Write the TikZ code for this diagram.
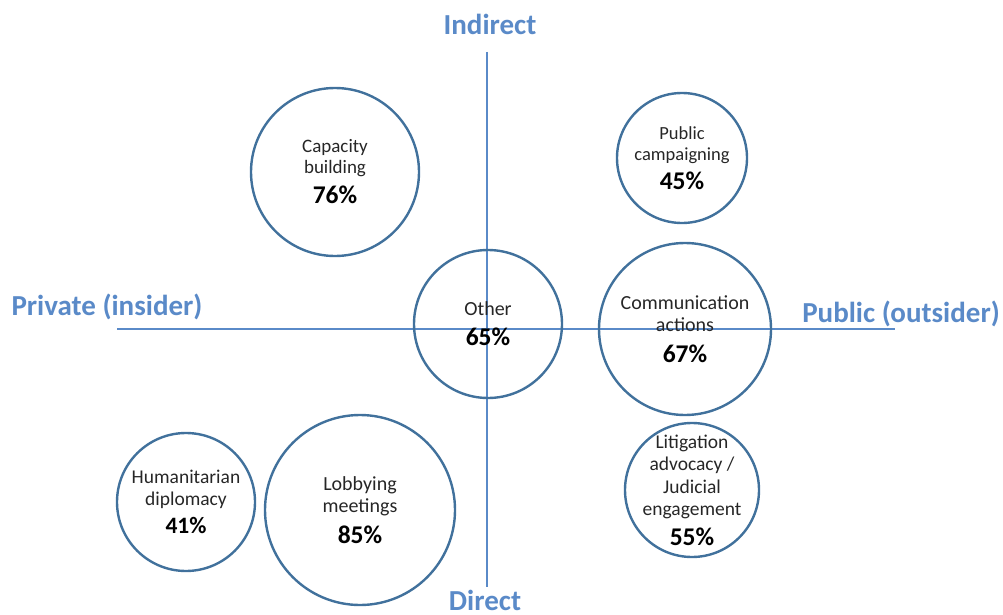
\documentclass[tikz,border=0pt]{standalone}
\usepackage{fontspec}
\setmainfont{Carlito}
\usetikzlibrary{positioning}

\definecolor{axisblue}{HTML}{5A8AC8}
\definecolor{ringblue}{HTML}{41719C}
\definecolor{inkgray}{HTML}{262626}

\newcommand{\share}[2][25.5]{{\fontsize{#1}{#1}\selectfont\bfseries\color{black}#2}}

\begin{document}
\begin{tikzpicture}[x=1pt, y=-1pt,
    ring/.style={circle, draw=ringblue, line width=2.4pt, inner sep=0pt},
    ringtext/.style={align=center, text=inkgray, font=\fontsize{19.5}{22.5}\selectfont},
    axisline/.style={draw=axisblue, line width=1.5pt},
    axislabel/.style={text=axisblue, font=\fontsize{29}{32}\selectfont\bfseries, inner sep=0pt, anchor=base}]
    \useasboundingbox (0,0) rectangle (1003,615);

    % axes
    \coordinate (top) at (487,52);
    \coordinate (bottom) at (487,587);
    \coordinate (left) at (117,329);
    \coordinate (right) at (895,329);
    \draw[axisline] (top) -- (bottom);
    \draw[axisline] (left) -- (right);

    \node[axislabel] (indirect) at (490,35) {Indirect};
    \node[axislabel] (direct) at (485,610) {Direct};
    \node[axislabel] (private) at (107,315) {Private (insider)};
    \node[axislabel] (public) at (901,322) {Public (outsider)};

    % bubbles
    \node[ring, minimum size=168pt] (capacity) at (335,172) {};
    \node[ring, minimum size=130pt] (campaign) at (682,158) {};
    \node[ring, minimum size=148pt] (other) at (488,324) {};
    \node[ring, minimum size=172pt] (comms) at (685,329) {};
    \node[ring, minimum size=134pt] (litigation) at (692,490) {};
    \node[ring, minimum size=138pt] (humanitarian) at (186,502) {};
    \node[ring, minimum size=190pt] (lobbying) at (360,510) {};

    \node[ringtext, font=\fontsize{19}{21}\selectfont] (capacity-t) at (capacity) {Capacity\\building\\[9pt]\share{76\%}};
    \node[ringtext, font=\fontsize{18.5}{21}\selectfont] (campaign-t) at (campaign) {Public\\campaigning\\[8pt]\share{45\%}};
    \node[ringtext, font=\fontsize{20}{22}\selectfont] (other-t) at (other) {Other\\[8pt]\share{65\%}};
    \node[ringtext, font=\fontsize{20}{22}\selectfont] (comms-t) at (comms) {Communication\\actions\\[9pt]\share{67\%}};
    \node[ringtext] (litigation-t) at (litigation) {Litigation\\advocacy /\\Judicial\\engagement\\[7pt]\share{55\%}};
    \node[ringtext, font=\fontsize{19.5}{21.5}\selectfont] (humanitarian-t) at (humanitarian) {Humanitarian\\diplomacy\\[7pt]\share[23.5]{41\%}};
    \node[ringtext, font=\fontsize{20}{22}\selectfont] (lobbying-t) at (lobbying) {Lobbying\\meetings\\[9pt]\share{85\%}};
  \end{tikzpicture}
\end{document}
